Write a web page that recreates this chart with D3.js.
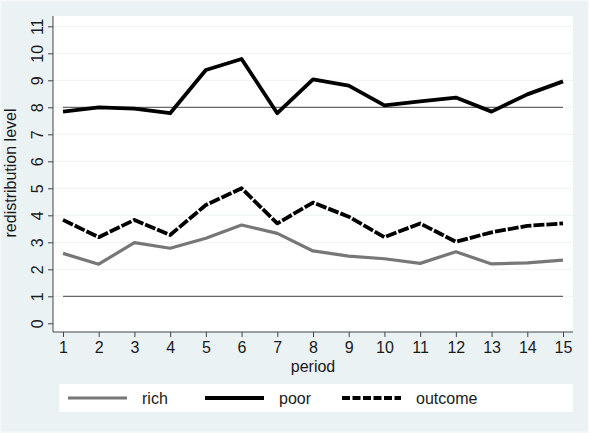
<!DOCTYPE html>
<html lang="en">
<head>
<meta charset="UTF-8">
<title>redistribution level by period</title>
<style>
  body { margin: 0; background: #eaf2f3; }
  text { font-family: "Liberation Sans", Arial, sans-serif; fill: #1a1a1a; }
  .grid line { stroke: #edf2f3; stroke-width: 1px; }
  .ref { stroke: #444; stroke-width: 1px; }
  .axis path, .axis line { stroke: #444; }
</style>
</head>
<body>
<svg width="589" height="433"></svg>
<script src="https://d3js.org/d3.v7.min.js"></script>
<script>
  const periods = [1, 2, 3, 4, 5, 6, 7, 8, 9, 10, 11, 12, 13, 14, 15];
  const rich = [2.59, 2.19, 2.99, 2.78, 3.15, 3.64, 3.33, 2.68, 2.49, 2.39, 2.22, 2.65, 2.2, 2.24, 2.34];
  const poor = [7.84, 8.0, 7.95, 7.78, 9.38, 9.79, 7.78, 9.03, 8.8, 8.07, 8.22, 8.36, 7.84, 8.48, 8.96];
  const outcome = [3.83, 3.19, 3.83, 3.27, 4.38, 5.0, 3.7, 4.47, 3.95, 3.19, 3.7, 3.02, 3.37, 3.61, 3.7];
  const yTicks = [0, 1, 2, 3, 4, 5, 6, 7, 8, 9, 10, 11];
  const refLevels = [1, 8];

  const series = [
    { name: "rich", values: rich, color: "#777", dash: null, width: 3.2 },
    { name: "poor", values: poor, color: "#000", dash: null, width: 3.8 },
    { name: "outcome", values: outcome, color: "#000", dash: "11,2", width: 3.8 }
  ];

  const svg = d3.select("svg");
  // outer frame
  svg.append("rect").attr("x", 0).attr("y", 0).attr("width", 589).attr("height", 433)
    .attr("fill", "#eaf2f3").attr("stroke", "#f4f8f8").attr("stroke-width", 3);

  const plot = { left: 53, right: 573, top: 16, bottom: 332 };

  const x = d3.scaleLinear().domain([1, 15]).range([63, 563]);
  const y = d3.scaleLinear().domain([0, 11]).range([323.3, 26.3]);

  svg.append("rect")
    .attr("x", plot.left).attr("y", plot.top)
    .attr("width", plot.right - plot.left).attr("height", plot.bottom - plot.top)
    .attr("fill", "#fff");

  // faint grid
  svg.append("g").attr("class", "grid")
    .selectAll("line").data(yTicks.filter(d => d > 0)).enter().append("line")
    .attr("x1", plot.left).attr("x2", plot.right)
    .attr("y1", d => y(d)).attr("y2", d => y(d));

  // reference lines
  svg.append("g").selectAll("line").data(refLevels).enter().append("line")
    .attr("class", "ref")
    .attr("x1", x(1)).attr("x2", x(15))
    .attr("y1", d => y(d)).attr("y2", d => y(d));

  // axes
  const yAxis = svg.append("g").attr("class", "axis")
    .attr("transform", "translate(" + plot.left + ",0)")
    .call(d3.axisLeft(y).tickValues(yTicks).tickSize(5).tickSizeOuter(0));
  yAxis.select(".domain").attr("d", "M0," + plot.top + "V" + plot.bottom);
  yAxis.selectAll(".tick text")
    .attr("font-size", 16)
    .attr("x", null).attr("dy", null)
    .attr("transform", "translate(-10,0) rotate(-90)")
    .attr("text-anchor", "middle");

  const xAxis = svg.append("g").attr("class", "axis")
    .attr("transform", "translate(0," + plot.bottom + ")")
    .call(d3.axisBottom(x).tickValues(periods).tickFormat(d3.format("d")).tickSize(5).tickSizeOuter(0).tickPadding(5));
  xAxis.select(".domain").attr("d", "M" + plot.left + ",0H" + plot.right);
  xAxis.selectAll("text").attr("font-size", 16);

  svg.append("text").attr("x", 313).attr("y", 372)
    .attr("text-anchor", "middle").attr("font-size", 16).text("period");
  svg.append("text")
    .attr("transform", "translate(16,173) rotate(-90)")
    .attr("text-anchor", "middle").attr("font-size", 16).text("redistribution level");

  // series lines
  const line = d3.line().x((d, i) => x(periods[i])).y(d => y(d));
  svg.append("g").selectAll("path").data(series).enter().append("path")
    .attr("d", d => line(d.values))
    .attr("fill", "none")
    .attr("stroke", d => d.color)
    .attr("stroke-width", d => d.width)
    .attr("stroke-dasharray", d => d.dash)
    .attr("stroke-linejoin", "round");

  // legend
  svg.append("rect").attr("x", 59).attr("y", 384).attr("width", 514).attr("height", 28).attr("fill", "#fff");
  const lx = d3.scalePoint().domain(series.map(d => d.name)).range([68, 342]);
  const lg = svg.append("g").selectAll("g").data(series).enter().append("g")
    .attr("transform", d => "translate(" + lx(d.name) + ",398)");
  lg.append("line").attr("x1", 0).attr("x2", 59).attr("y1", 0).attr("y2", 0)
    .attr("stroke", d => d.color).attr("stroke-width", d => d.width)
    .attr("stroke-dasharray", d => d.name === "outcome" ? "8,2.5" : null);
  lg.append("text").attr("x", 74).attr("y", 6).attr("font-size", 16).text(d => d.name);
</script>
</body>
</html>
